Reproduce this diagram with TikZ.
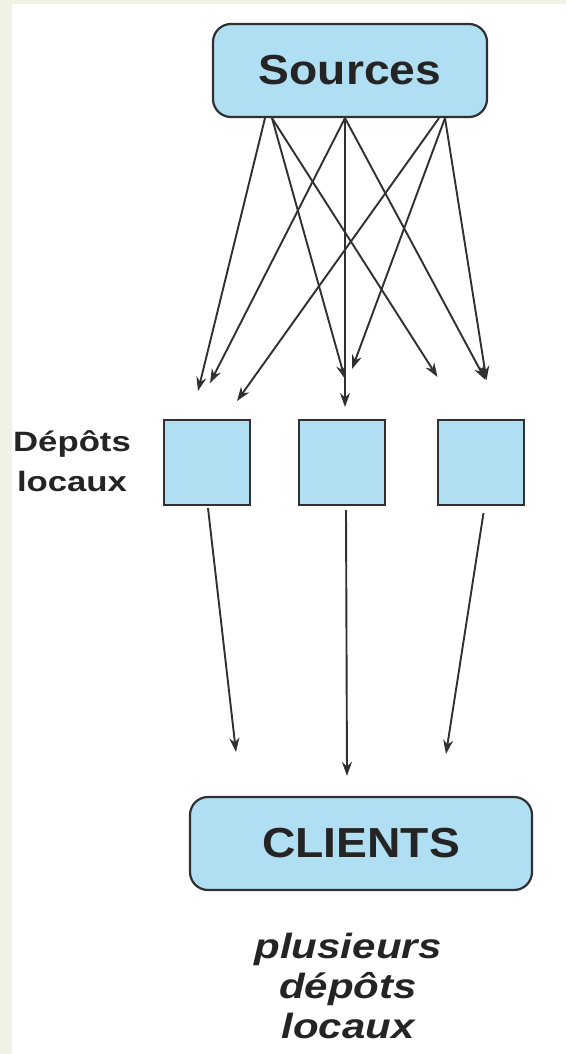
\documentclass[tikz,border=0pt]{standalone}
\usepackage{fontspec}
\setmainfont{Liberation Sans}
\usetikzlibrary{arrows.meta,calc}

\definecolor{boxblue}{RGB}{176,222,242}
\definecolor{edgegray}{RGB}{48,48,48}
\definecolor{inkgray}{RGB}{36,36,36}
\definecolor{pagegreen}{RGB}{239,243,227}

% horizontally widened text
\newcommand{\widetxt}[2][1.2]{\scalebox{#1}[1]{#2}}

\begin{document}
\begin{tikzpicture}[x=1pt,y=-1pt,
  roundbox/.style={draw=edgegray, line width=2.2pt, fill=boxblue,
    rounded corners=18pt, minimum height=93pt, inner sep=0pt,
    text=inkgray, font=\fontsize{42}{48}\selectfont\bfseries},
  depot/.style={draw=edgegray, line width=2pt, fill=boxblue,
    minimum width=86pt, minimum height=85pt, inner sep=0pt},
  flow/.style={draw=edgegray, line width=1.9pt,
    -{Stealth[length=14pt,width=10pt]}},
  label/.style={text=inkgray, align=center, inner sep=0pt}]

% page background
\fill[pagegreen] (0,0) rectangle (566,1054);
\fill[white] (12,4) rectangle (566,1054);
\useasboundingbox (0,0) rectangle (566,1054);

% boxes
\node[roundbox, minimum width=274pt] (src) at (350,70.5) {\widetxt[1.1]{Sources}};
\node[depot] (dL) at (207,462.5) {};
\node[depot] (dM) at (342,462.5) {};
\node[depot] (dR) at (480.5,462.5) {};
\node[roundbox, minimum width=342pt] (cl) at (361,843.5) {\widetxt[1.1]{CLIENTS}};

% labels
\node[label, font=\fontsize{28}{40}\selectfont\bfseries] (lab) at (72,461)
  {\widetxt[1.24]{Dépôts}\\\widetxt[1.24]{locaux}};
\node[label, font=\fontsize{35}{40}\selectfont\bfseries\itshape] (cap) at (348,986)
  {\widetxt{plusieurs}\\\widetxt{dépôts}\\\widetxt{locaux}};

% sources to local depots
\draw[flow] ([xshift=-85pt]src.south) -- ([xshift=-9pt,yshift=28pt]dL.north);
\draw[flow] ([xshift=-78pt]src.south) -- ([xshift=3pt,yshift=40pt]dM.north);
\draw[flow] ([xshift=-78pt]src.south) -- ([xshift=-43pt,yshift=42pt]dR.north);
\draw[flow] ([xshift=-5pt]src.south) -- ([xshift=3pt,yshift=36pt]dL.north);
\draw[flow] ([xshift=-5pt]src.south) -- ([xshift=3pt,yshift=12pt]dM.north);
\draw[flow] ([xshift=-5pt]src.south) -- ([xshift=5pt,yshift=39pt]dR.north);
\draw[flow] ([xshift=89pt]src.south) -- ([xshift=30pt,yshift=18pt]dL.north);
\draw[flow] ([xshift=95pt]src.south) -- ([xshift=10pt,yshift=50pt]dM.north);
\draw[flow] ([xshift=95pt]src.south) -- ([xshift=6pt,yshift=39pt]dR.north);

% local depots to clients
\draw[flow] ([xshift=1pt,yshift=-2pt]dL.south) -- ([xshift=-125pt,yshift=44pt]cl.north);
\draw[flow] ([xshift=4pt,yshift=-4pt]dM.south) -- ([xshift=-14pt,yshift=20pt]cl.north);
\draw[flow] ([xshift=3pt,yshift=-7pt]dR.south) -- ([xshift=85pt,yshift=42pt]cl.north);
\end{tikzpicture}
\end{document}
